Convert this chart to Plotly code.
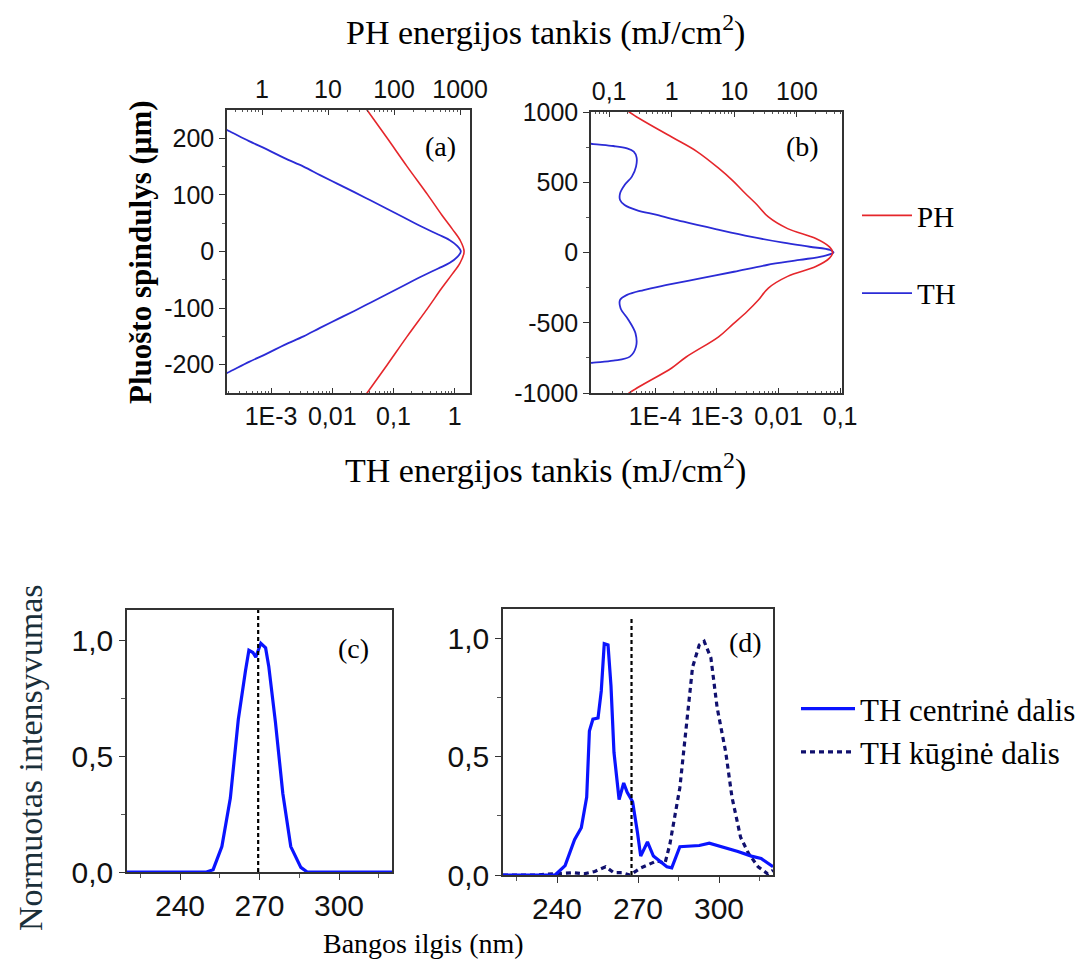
import plotly.graph_objects as go

# ---------------- data ----------------
# Panel (a): beam radius (um) vs energy density
a_th_r = [220, 212, 195, 180, 165, 150, 135, 120, 105, 90, 75, 60, 45, 30, 20, 10, 0,
          -10, -20, -30, -45, -60, -75, -90, -105, -120, -135, -150, -165, -180, -195, -212, -220]
a_th_val = [1.51e-4, 2.14e-4, 4.37e-4, 8.71e-4, 1.66e-3, 3.39e-3, 6.31e-3, 0.012, 0.0229, 0.0427, 0.0794,
            0.148, 0.275, 0.537, 0.832, 1.096, 1.259,
            1.096, 0.832, 0.537, 0.275, 0.148, 0.0794, 0.0427, 0.0229, 0.012, 6.31e-3, 3.39e-3, 1.66e-3,
            8.71e-4, 4.37e-4, 2.14e-4, 1.51e-4]
a_ph_r = [260, 250, 200, 150, 100, 65, 40, 20, 0, -20, -40, -65, -100, -150, -200, -250, -260]
a_ph_val = [34, 39, 79, 158, 324, 525, 759, 1000, 1150, 1000, 759, 525, 324, 158, 79, 39, 34]

# Panel (b)
b_th_r = [785, 772, 758, 741, 718, 677, 611, 540, 480, 421, 374, 338, 302, 267, 219, 165, 113, 70, 41, 18, 0,
          -25, -53, -89, -137, -184, -231, -267, -302, -338, -397, -480, -575, -670, -741, -770, -784, -795]
b_th_val = [6.0e-6, 1.0e-5, 2.1e-5, 3.5e-5, 4.5e-5, 5.0e-5, 4.9e-5, 4.2e-5, 3.2e-5, 2.7e-5, 2.7e-5, 3.2e-5,
            5.0e-5, 1.07e-4, 2.9e-4, 1.0e-3, 3.5e-3, 0.012, 0.032, 0.069, 0.078,
            0.054, 0.022, 6.5e-3, 1.9e-3, 5.4e-4, 1.55e-4, 6.5e-5, 3.5e-5, 2.7e-5, 2.75e-5, 3.7e-5, 4.8e-5,
            4.9e-5, 3.9e-5, 2.1e-5, 1.0e-5, 6.0e-6]
b_ph_r = [1060, 1000, 822, 720, 600, 510, 420, 340, 253, 170, 100, 40, 0,
          -40, -100, -170, -253, -340, -420, -510, -600, -744, -822, -1000, -1060]
b_ph_val = [0.15, 0.21, 1.0, 2.5, 5.6, 9.5, 15, 23, 35, 71, 200, 331, 372,
            331, 200, 71, 35, 24, 16, 9.5, 5.6, 1.7, 1.0, 0.21, 0.15]

# Panel (c): spectrum of central part
c_wl = [220, 250, 252.5, 255.8, 259, 262, 264.7, 266, 267.5, 268.6, 270.5, 272.3, 273.5, 276, 278.8, 281.8, 285.6, 288, 320]
c_int = [0, 0, 0.01, 0.11, 0.32, 0.66, 0.87, 0.96, 0.95, 0.93, 0.99, 0.97, 0.89, 0.65, 0.34, 0.11, 0.02, 0, 0]
c_mark = [269.5]

# Panel (d)
d_wl = [220, 239.3, 243, 246.5, 249, 251, 252, 253.3, 255.2, 256.4, 257.5, 258.9, 260, 261.1, 263, 264.7, 266,
        268, 269.8, 271, 273.5, 275.7, 280.7, 282.5, 285.5, 292.7, 296.4, 301, 307, 312, 315.6, 320]
d_int = [0, 0, 0.04, 0.15, 0.2, 0.33, 0.61, 0.66, 0.665, 0.78, 0.98, 0.975, 0.80, 0.52, 0.32, 0.39, 0.35,
         0.31, 0.18, 0.08, 0.14, 0.08, 0.035, 0.03, 0.12, 0.125, 0.135, 0.12, 0.10, 0.08, 0.07, 0.035]
e_wl = [220, 232, 246, 250, 254, 258, 261, 264, 267, 271, 274, 277, 280, 281.8, 285.5, 288.4, 290.2, 292.7,
        294.5, 297, 299.3, 302.5, 304.8, 308, 311, 314.5, 318, 320]
e_int = [0, 0, 0.01, 0.005, 0.015, 0.035, 0.01, 0.01, 0.0, 0.03, 0.045, 0.06, 0.05, 0.13, 0.37, 0.69, 0.88,
         0.975, 0.99, 0.92, 0.71, 0.52, 0.33, 0.16, 0.09, 0.035, 0.005, 0.02]
d_mark = [267.6]

th_ticks_a = [1e-3, 1e-2, 0.1, 1]
th_ticktext_a = ["1E-3", "0,01", "0,1", "1"]
th_ticks_b = [1e-4, 1e-3, 1e-2, 0.1]
th_ticktext_b = ["1E-4", "1E-3", "0,01", "0,1"]
ph_ticks = [0.1, 1, 10, 100, 1000]
ph_ticktext = ["0,1", "1", "10", "100", "1000"]
wl_ticks = [240, 270, 300]
int_ticks = [0, 0.5, 1.0]
int_ticktext = ["0,0", "0,5", "1,0"]

# ---------------- styling ----------------
W, H = 1087, 965
RED = "#e5262b"
BLUE = "#2b2bd6"
SBLUE = "#0a14ff"
NAVY = "#10106e"
SERIF = "Liberation Serif, Times New Roman, serif"
SANS = "Liberation Sans, Arial, sans-serif"
TICKC = "#111111"
TF_AB = 25
TF_CD = 30


def px(x):
    return x / W


def py(y):
    return 1 - y / H


fig = go.Figure()

# (a)
fig.add_trace(go.Scatter(x=a_ph_val, y=a_ph_r, xaxis="x5", yaxis="y", mode="lines", name="PH",
                         line=dict(color=RED, width=1.6, shape="spline"), legend="legend", legendgroup="ph",
                         legendrank=1))
fig.add_trace(go.Scatter(x=a_th_val, y=a_th_r, xaxis="x", yaxis="y", mode="lines", name="TH",
                         line=dict(color=BLUE, width=1.8, shape="spline"), legend="legend", legendgroup="th",
                         legendrank=2))
# (b)
fig.add_trace(go.Scatter(x=b_ph_val, y=b_ph_r, xaxis="x6", yaxis="y2", mode="lines", name="PH",
                         line=dict(color=RED, width=1.6, shape="spline"), showlegend=False))
fig.add_trace(go.Scatter(x=b_th_val, y=b_th_r, xaxis="x2", yaxis="y2", mode="lines", name="TH",
                         line=dict(color=BLUE, width=1.8, shape="spline"), showlegend=False))
# (c)
fig.add_trace(go.Scatter(x=c_wl, y=c_int, xaxis="x3", yaxis="y3", mode="lines", name="c",
                         line=dict(color=SBLUE, width=3.2), showlegend=False))
# (d)
fig.add_trace(go.Scatter(x=e_wl, y=e_int, xaxis="x4", yaxis="y4", mode="lines", name="TH kūginė dalis",
                         line=dict(color=NAVY, width=3.2, dash="5px,4px"), legend="legend2", legendgroup="k",
                         legendrank=2))
fig.add_trace(go.Scatter(x=d_wl, y=d_int, xaxis="x4", yaxis="y4", mode="lines", name="TH centrinė dalis",
                         line=dict(color=SBLUE, width=3.2), legend="legend2", legendgroup="c", legendrank=1))

# dashed reference lines
for xv in c_mark:
    fig.add_shape(type="line", xref="x3", yref="y3 domain", x0=xv, x1=xv, y0=0, y1=1,
                  line=dict(color="black", width=2.2, dash="4px,3px"))
for xv in d_mark:
    fig.add_shape(type="line", xref="x4", yref="y4 domain", x0=xv, x1=xv, y0=0, y1=0.97,
                  line=dict(color="black", width=2.2, dash="4px,3px"))


def logminor(lo, hi):
    vals = []
    for e in range(lo, hi):
        for m in range(2, 10):
            vals.append(m * 10 ** e)
    return vals


log_common = dict(type="log", showline=True, linecolor="#333", linewidth=1.5, ticks="inside", ticklen=5,
                  tickcolor="#333", showgrid=False, zeroline=False, tickmode="array", automargin=False,
                  tickfont=dict(family=SANS, size=TF_AB, color=TICKC))

lin_common = dict(showline=True, linecolor="#333", linewidth=1.5, mirror=True, ticks="outside", ticklen=6,
                  tickcolor="#333", showgrid=False, zeroline=False, tickmode="array", automargin=False)

fig.update_layout(
    template="none",
    width=W, height=H, margin=dict(l=0, r=0, t=0, b=0, pad=0, autoexpand=False),
    paper_bgcolor="white", plot_bgcolor="white",
    xaxis=dict(**log_common, domain=[px(227), px(470)], range=[-3.72, 0.25], anchor="y", side="bottom",
               tickvals=th_ticks_a, ticktext=th_ticktext_a,
               minor=dict(tickmode="array", tickvals=logminor(-4, 1), ticks="inside", ticklen=2, tickcolor="#555")),
    xaxis5=dict(**log_common, range=[-0.53, 3.15], overlaying="x", anchor="y", side="top",
                tickvals=ph_ticks, ticktext=ph_ticktext,
                minor=dict(tickmode="array", tickvals=logminor(-1, 4), ticks="inside", ticklen=2, tickcolor="#555")),
    yaxis=dict(**lin_common, domain=[py(393), py(110)], range=[-250, 250], anchor="x",
               tickvals=[-200, -100, 0, 100, 200], ticktext=["-200", "-100", "0", "100", "200"],
               tickfont=dict(family=SANS, size=TF_AB, color=TICKC),
               minor=dict(tickmode="array", tickvals=[-150, -50, 50, 150], ticks="outside", ticklen=3,
                          tickcolor="#555")),
    xaxis2=dict(**log_common, domain=[px(591), px(842)], range=[-5.04, -0.97], anchor="y2", side="bottom",
                tickvals=th_ticks_b, ticktext=th_ticktext_b,
                minor=dict(tickmode="array", tickvals=logminor(-6, 0), ticks="inside", ticklen=2, tickcolor="#555")),
    xaxis6=dict(**log_common, range=[-1.29, 2.72], overlaying="x2", anchor="y2", side="top",
                tickvals=ph_ticks, ticktext=ph_ticktext,
                minor=dict(tickmode="array", tickvals=logminor(-2, 3), ticks="inside", ticklen=2, tickcolor="#555")),
    yaxis2=dict(**lin_common, domain=[py(393), py(112)], range=[-1000, 1000], anchor="x2",
                tickvals=[-1000, -500, 0, 500, 1000], ticktext=["-1000", "-500", "0", "500", "1000"],
                tickfont=dict(family=SANS, size=TF_AB, color=TICKC),
                minor=dict(tickmode="array", tickvals=[-750, -250, 250, 750], ticks="outside", ticklen=3,
                           tickcolor="#555")),
    xaxis3=dict(**lin_common, domain=[px(127), px(392)], range=[220, 320], anchor="y3",
                tickvals=wl_ticks, tickfont=dict(family=SANS, size=TF_CD, color=TICKC),
                minor=dict(tickmode="array", tickvals=[225, 255, 285, 315], ticks="outside", ticklen=4,
                           tickcolor="#555")),
    yaxis3=dict(**lin_common, domain=[py(872), py(610)], range=[0, 1.134], anchor="x3",
                tickvals=int_ticks, ticktext=int_ticktext, tickfont=dict(family=SANS, size=TF_CD, color=TICKC),
                minor=dict(tickmode="array", tickvals=[0.25, 0.75], ticks="outside", ticklen=4, tickcolor="#555")),
    xaxis4=dict(**lin_common, domain=[px(503), px(773)], range=[220, 320], anchor="y4",
                tickvals=wl_ticks, tickfont=dict(family=SANS, size=TF_CD, color=TICKC),
                minor=dict(tickmode="array", tickvals=[225, 255, 285, 315], ticks="outside", ticklen=4,
                           tickcolor="#555")),
    yaxis4=dict(**lin_common, domain=[py(875), py(609)], range=[0, 1.127], anchor="x4",
                tickvals=int_ticks, ticktext=int_ticktext, tickfont=dict(family=SANS, size=TF_CD, color=TICKC),
                minor=dict(tickmode="array", tickvals=[0.25, 0.75], ticks="outside", ticklen=4, tickcolor="#555")),
    legend=dict(x=px(857), y=py(190), xanchor="left", yanchor="top", bgcolor="rgba(0,0,0,0)",
                font=dict(family=SERIF, size=29, color="black"), tracegroupgap=37, traceorder="grouped",
                itemwidth=50),
    legend2=dict(x=px(796), y=py(682), xanchor="left", yanchor="top", bgcolor="rgba(0,0,0,0)",
                 font=dict(family=SERIF, size=31, color="black"), tracegroupgap=0, traceorder="grouped",
                 itemwidth=54),
)

ann = [
    dict(text="PH energijos tankis (mJ/cm<sup>2</sup>)", x=px(545), y=py(30), size=34, angle=0, color="black"),
    dict(text="TH energijos tankis (mJ/cm<sup>2</sup>)", x=px(545), y=py(468), size=34, angle=0, color="black"),
    dict(text="<b>Pluošto spindulys (μm)</b>", x=px(140), y=py(252), size=31, angle=-90, color="black"),
    dict(text="Normuotas intensyvumas", x=px(30), y=py(758), size=34, angle=-90, color="#1a2f3a"),
    dict(text="Bangos ilgis (nm)", x=px(423), y=py(943), size=28, angle=0, color="black"),
    dict(text="(a)", x=px(440), y=py(147), size=28, angle=0, color="black"),
    dict(text="(b)", x=px(802), y=py(147), size=28, angle=0, color="black"),
    dict(text="(c)", x=px(353), y=py(648), size=28, angle=0, color="black"),
    dict(text="(d)", x=px(745), y=py(642), size=28, angle=0, color="black"),
]
for a in ann:
    fig.add_annotation(text=a["text"], x=a["x"], y=a["y"], xref="paper", yref="paper", showarrow=False,
                       xanchor="center", yanchor="middle", textangle=a["angle"],
                       font=dict(family=SERIF, size=a["size"], color=a["color"]))

fig.write_html("out.html")
